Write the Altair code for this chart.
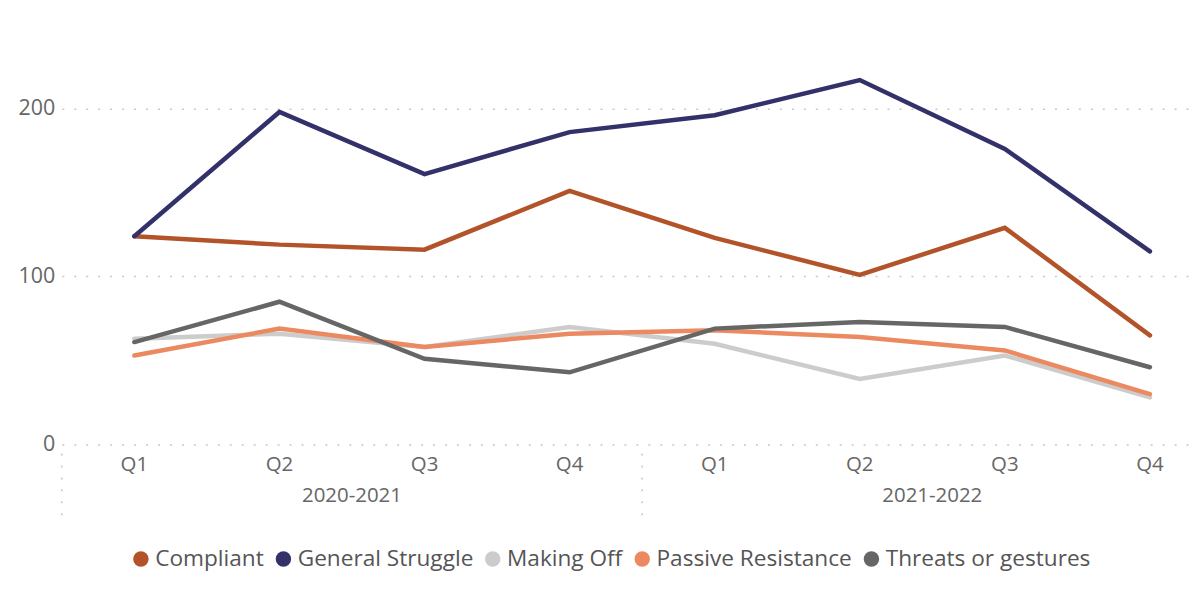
import altair as alt
import pandas as pd

quarters = ["Q1", "Q2", "Q3", "Q4", "Q1", "Q2", "Q3", "Q4"]
periods = ["2020-2021", "2021-2022"]
series_names = ["Compliant", "General Struggle", "Making Off", "Passive Resistance", "Threats or gestures"]
compliant = [124, 119, 116, 151, 123, 101, 129, 65]
general_struggle = [124, 198, 161, 186, 196, 217, 176, 115]
making_off = [63, 66, 58, 70, 60, 39, 53, 28]
passive_resistance = [53, 69, 58, 66, 68, 64, 56, 30]
threats = [61, 85, 51, 43, 69, 73, 70, 46]
colors = ["#B3532A", "#32316A", "#CCCCCC", "#EB8A60", "#666666"]

series_values = [compliant, general_struggle, making_off, passive_resistance, threats]
rows = []
for name, vals in zip(series_names, series_values):
    for i, v in enumerate(vals):
        rows.append({"idx": i, "series": name, "value": v})
df = pd.DataFrame(rows)

qdf = pd.DataFrame({"idx": list(range(len(quarters))), "label": quarters})
pdf = pd.DataFrame({"idx": [1.5, 5.5], "label": periods})
sdf = pd.DataFrame({"idx": [-0.5, 3.5]})

FONT = "Open Sans"
xscale = alt.Scale(domain=[-0.5, 7.29], nice=False, zero=False)
yscale = alt.Scale(domain=[0, 259.3], nice=False)
cscale = alt.Scale(domain=series_names, range=colors)

yaxis = alt.Axis(values=[0, 100, 200], title=None, domain=False, ticks=False,
                 labelFontSize=21.5, labelColor="#666666", labelPadding=7,
                 labelFont=FONT, grid=True, gridDash=[2, 10],
                 gridColor="#C8C8C8", gridWidth=1.5)

# legend carrier: filled circles (no rows drawn), legend comes from the colour scale
legend_pts = alt.Chart(df).transform_filter("false").mark_circle(size=240, opacity=1).encode(
    x=alt.X("idx:Q", scale=xscale, axis=None),
    y=alt.Y("value:Q", scale=yscale, axis=yaxis),
    color=alt.Color("series:N", scale=cscale,
                    legend=alt.Legend(title=None, orient="none", direction="horizontal",
                                      legendX=68, legendY=540, symbolType="circle",
                                      symbolSize=240, symbolStrokeWidth=0,
                                      labelFontSize=22.7, labelFont=FONT, labelColor="#555555",
                                      labelOffset=3, columnPadding=8, labelLimit=400)),
)

lines = alt.Chart(df).mark_line(strokeWidth=4.5, strokeCap="round").encode(
    x=alt.X("idx:Q", scale=xscale, axis=None),
    y=alt.Y("value:Q", scale=yscale, axis=yaxis),
    color=alt.Color("series:N", scale=cscale, legend=None),
)

qlabels = alt.Chart(qdf).mark_text(fontSize=20.5, font=FONT, color="#666666", baseline="middle").encode(
    x=alt.X("idx:Q", scale=xscale, axis=None),
    y=alt.value(458),
    text="label:N",
)

plabels = alt.Chart(pdf).mark_text(fontSize=20.5, font=FONT, color="#666666", baseline="middle").encode(
    x=alt.X("idx:Q", scale=xscale, axis=None),
    y=alt.value(489),
    text="label:N",
)

seps = alt.Chart(sdf).mark_rule(color="#C8C8C8", strokeWidth=1.5, strokeDash=[2, 10]).encode(
    x=alt.X("idx:Q", scale=xscale, axis=None),
    y=alt.value(446),
    y2=alt.value(512),
)

chart = alt.layer(legend_pts, seps, lines, qlabels, plabels).properties(
    width=1134, height=437,
    autosize=alt.AutoSizeParams(type="none"),
    padding={"left": 54, "top": 0, "right": 2, "bottom": 140},
).configure_view(strokeWidth=0)

chart.save("out.html", embed_options={"renderer": "svg", "actions": False})
